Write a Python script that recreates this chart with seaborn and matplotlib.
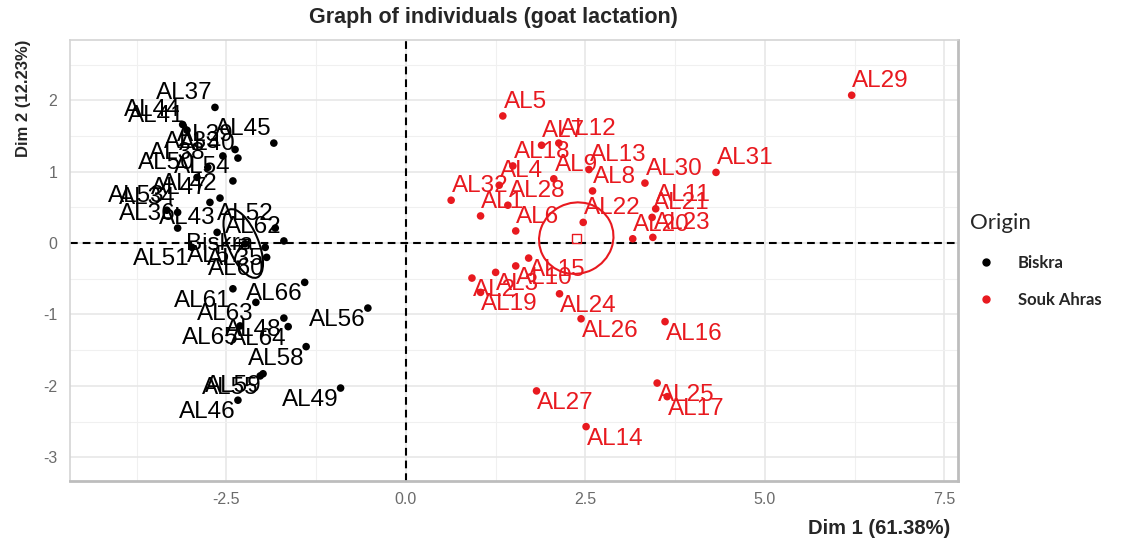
import numpy as np
import pandas as pd
import matplotlib
matplotlib.use("Agg")
import matplotlib.pyplot as plt
from matplotlib.patches import Ellipse
from matplotlib.lines import Line2D
from matplotlib.ticker import MultipleLocator, FixedLocator
import seaborn as sns

# PCA individual coordinates, goats from Biskra
biskra_ids = ["AL37", "AL44", "AL41", "AL45", "AL39", "AL33", "AL40", "AL38", "AL50",
              "AL54", "AL42", "AL47", "AL52", "AL53", "AL34", "AL36", "AL43", "AL62",
              "AL35", "AL57", "AL51", "AL60", "AL61", "AL66", "AL63", "AL56", "AL48",
              "AL64", "AL65", "AL58", "AL59", "AL55", "AL46", "AL49"]
biskra_dim1 = [-2.66, -3.11, -3.05, -1.84, -2.38, -2.55, -2.34, -2.76, -2.91,
               -2.41, -2.59, -2.73, -1.82, -3.33, -3.18, -3.18, -2.63, -1.70,
               -1.96, -2.24, -2.98, -1.94, -2.41, -1.41, -2.09, -0.53, -1.70,
               -1.64, -2.31, -1.39, -1.99, -2.03, -2.34, -0.91]
biskra_dim2 = [1.90, 1.66, 1.58, 1.40, 1.31, 1.22, 1.19, 1.06, 0.92,
               0.87, 0.63, 0.57, 0.21, 0.46, 0.43, 0.21, 0.15, 0.03,
               -0.06, -0.01, -0.06, -0.20, -0.64, -0.55, -0.83, -0.91, -1.05,
               -1.17, -1.16, -1.45, -1.83, -1.86, -2.20, -2.03]

# PCA individual coordinates, goats from Souk Ahras
souk_ids = ["AL1", "AL2", "AL3", "AL4", "AL5", "AL6", "AL7", "AL8", "AL9", "AL10",
            "AL11", "AL12", "AL13", "AL14", "AL15", "AL16", "AL17", "AL18", "AL19", "AL20",
            "AL21", "AL22", "AL23", "AL24", "AL25", "AL26", "AL27", "AL28", "AL29", "AL30",
            "AL31", "AL32"]
souk_dim1 = [1.04, 0.92, 1.25, 1.30, 1.35, 1.53, 1.89, 2.60, 2.06, 1.53,
             3.48, 2.13, 2.55, 2.51, 1.71, 3.61, 3.64, 1.49, 1.04, 3.16,
             3.43, 2.47, 3.44, 2.14, 3.50, 2.44, 1.82, 1.42, 6.21, 3.33,
             4.32, 0.63]
souk_dim2 = [0.38, -0.49, -0.41, 0.81, 1.78, 0.17, 1.37, 0.73, 0.90, -0.32,
             0.48, 1.40, 1.03, -2.57, -0.21, -1.10, -2.15, 1.08, -0.69, 0.06,
             0.36, 0.29, 0.08, -0.71, -1.96, -1.06, -2.07, 0.53, 2.07, 0.84,
             0.99, 0.60]

groups = ["Biskra", "Souk Ahras"]
group_colors = {"Biskra": "#000000", "Souk Ahras": "#e8191f"}

x_ticks = [-2.5, 0.0, 2.5, 5.0, 7.5]
x_tick_labels = ["-2.5", "0.0", "2.5", "5.0", "7.5"]
y_ticks = [-3, -2, -1, 0, 1, 2]
y_tick_labels = ["-3", "-2", "-1", "0", "1", "2"]

df = pd.DataFrame({
    "id": biskra_ids + souk_ids,
    "Dim1": biskra_dim1 + souk_dim1,
    "Dim2": biskra_dim2 + souk_dim2,
    "Origin": ["Biskra"] * len(biskra_ids) + ["Souk Ahras"] * len(souk_ids),
})

sns.set_theme(style="white")
plt.rcParams["font.family"] = ["Liberation Sans", "DejaVu Sans"]
plt.rcParams["axes.unicode_minus"] = False

fig = plt.figure(figsize=(11.23, 5.44), dpi=100)
ax = fig.add_axes([0.0623, 0.116, 0.7907, 0.810])

# grid
ax.set_xlim(-4.68, 7.69)
ax.set_ylim(-3.33, 2.84)
ax.xaxis.set_major_locator(FixedLocator(x_ticks))
ax.yaxis.set_major_locator(FixedLocator(y_ticks))
ax.xaxis.set_minor_locator(MultipleLocator(1.25))
ax.yaxis.set_minor_locator(MultipleLocator(0.5))
ax.grid(which="major", color="#e6e6e6", lw=1.1, zorder=0)
ax.grid(which="minor", color="#f0f0f0", lw=0.8, zorder=0)
ax.set_axisbelow(True)

# reference lines through the origin
ax.axhline(0, color="black", lw=1.5, ls=(0, (3.7, 2.4)), zorder=1)
ax.axvline(0, color="black", lw=1.5, ls=(0, (3.7, 2.4)), zorder=1)

sns.scatterplot(data=df, x="Dim1", y="Dim2", hue="Origin", hue_order=groups,
                palette=group_colors, s=30, linewidth=0, legend=False, ax=ax, zorder=3)


def confidence_ellipse(xs, ys, color):
    xs = np.asarray(xs)
    ys = np.asarray(ys)
    cov = np.cov(xs, ys) / len(xs)
    vals, vecs = np.linalg.eigh(cov)
    order = vals.argsort()[::-1]
    vals, vecs = vals[order], vecs[:, order]
    angle = np.degrees(np.arctan2(vecs[1, 0], vecs[0, 0]))
    w, h = 2 * np.sqrt(vals * 5.991)
    return Ellipse((xs.mean(), ys.mean()), w, h, angle=angle, fill=False,
                   edgecolor=color, lw=1.5, zorder=2)


for g in groups:
    sub = df[df["Origin"] == g]
    col = group_colors[g]
    ax.add_patch(confidence_ellipse(sub["Dim1"], sub["Dim2"], col))
    ax.scatter([sub["Dim1"].mean()], [sub["Dim2"].mean()], marker="s", s=40,
               facecolors="none", edgecolors=col, linewidths=1.0, zorder=4)

# point labels: Biskra labels sit to the left, Souk Ahras labels to the right
for _, row in df.iterrows():
    col = group_colors[row["Origin"]]
    dy = 5.8 if row["Dim2"] >= 0 else -13.0
    if row["Origin"] == "Biskra":
        dx, ha = -1.4, "right"
    else:
        dx, ha = 0.5, "left"
    ax.annotate(row["id"], (row["Dim1"], row["Dim2"]), xytext=(dx, dy),
                textcoords="offset points", ha=ha, va="baseline",
                fontsize=17.5, color=col, zorder=5)

# group mean label
bis = df[df["Origin"] == "Biskra"]
ax.annotate("Biskra", (bis["Dim1"].mean(), bis["Dim2"].mean()), xytext=(-17, -5),
            textcoords="offset points", ha="center", va="baseline",
            fontsize=17.5, color="black", zorder=5)

# axes styling
for side in ["top", "left"]:
    ax.spines[side].set_color("#d4d4d4")
    ax.spines[side].set_linewidth(1.2)
for side in ["bottom", "right"]:
    ax.spines[side].set_color("#bdbdbd")
    ax.spines[side].set_linewidth(2.0)
ax.set_xticklabels(x_tick_labels)
ax.set_yticklabels(y_tick_labels)
ax.tick_params(which="major", length=4, width=1.0, color="#b0b0b0",
               labelcolor="#6b6b6b", labelsize=11.5, pad=5)
ax.tick_params(which="minor", length=0)
ax.tick_params(axis="x", pad=4)
ax.set_xlabel("")
ax.set_ylabel("")

title_font = ["Liberation Sans Narrow", "Liberation Sans", "DejaVu Sans"]
fig.text(0.439, 0.967, "Graph of individuals (goat lactation)", ha="center", va="center",
         fontsize=15.5, fontweight="bold", family=title_font)
fig.text(0.846, 0.029, "Dim 1 (61.38%)", ha="right", va="center",
         fontsize=14.5, fontweight="bold", family=title_font)
fig.text(0.021, 0.819, "Dim 2 (12.23%)", ha="center", va="center", rotation=90,
         fontsize=12, fontweight="bold")

# legend
handles = [Line2D([0], [0], marker="o", ls="none", markersize=5,
                  markerfacecolor=group_colors[g], markeredgecolor=group_colors[g])
           for g in groups]
leg = ax.legend(handles, groups, title="Origin", loc="center left",
                bbox_to_anchor=(1.0, 0.5), frameon=False,
                prop={"family": ["Lato", "DejaVu Sans"], "weight": "bold", "size": 12},
                handletextpad=0.9, labelspacing=1.3, borderaxespad=0.3)
leg.get_title().set_fontsize(16)
leg.get_title().set_family(["Lato", "DejaVu Sans"])
leg._legend_box.align = "left"

fig.savefig("out.png", dpi=100, facecolor="white")
